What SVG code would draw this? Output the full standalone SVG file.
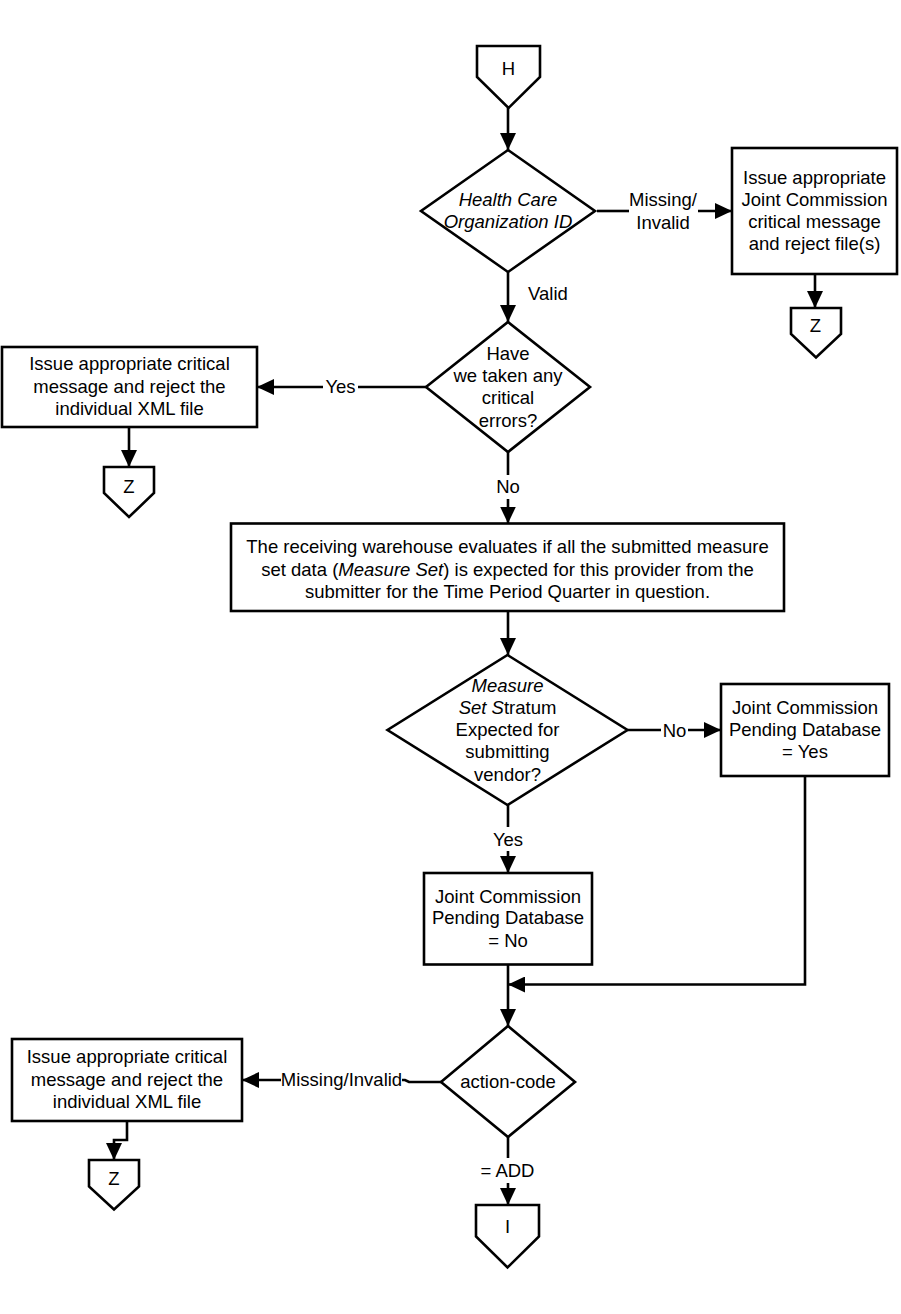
<svg xmlns="http://www.w3.org/2000/svg" width="901" height="1314" viewBox="0 0 901 1314">
<defs>
<marker id="arr" markerUnits="userSpaceOnUse" markerWidth="17" markerHeight="16" refX="17" refY="8" orient="auto">
<path d="M0,0 L17,8 L0,16 z" fill="#000"/>
</marker>
<style>
.s{fill:#fff;stroke:#000;stroke-width:2.6;stroke-linejoin:miter}
.c{fill:none;stroke:#000;stroke-width:2.6}
.a{marker-end:url(#arr)}
text{font-family:"Liberation Sans",Arial,sans-serif;font-size:18.5px;fill:#000;text-anchor:middle}
.i{font-style:italic}
</style>
</defs>
<rect width="901" height="1314" fill="#fff"/>

<g id="connectors">
<line class="c a" x1="508" y1="108" x2="508" y2="150"/>
<line class="c" x1="597" y1="211" x2="629" y2="211"/>
<line class="c a" x1="698" y1="211" x2="732" y2="211"/>
<line class="c a" x1="815" y1="274" x2="815" y2="308"/>
<line class="c a" x1="508" y1="272" x2="508" y2="322"/>
<line class="c" x1="426" y1="387" x2="358" y2="387"/>
<line class="c a" x1="323" y1="387" x2="257" y2="387"/>
<line class="c a" x1="129" y1="427" x2="129" y2="467"/>
<line class="c" x1="508" y1="452" x2="508" y2="475"/>
<line class="c a" x1="508" y1="499" x2="508" y2="523.5"/>
<line class="c a" x1="508" y1="611" x2="508" y2="655"/>
<line class="c" x1="627.5" y1="730" x2="661" y2="730"/>
<line class="c a" x1="688" y1="730" x2="721" y2="730"/>
<line class="c" x1="508" y1="805" x2="508" y2="827"/>
<line class="c a" x1="508" y1="851" x2="508" y2="873"/>
<line class="c a" x1="508" y1="964.5" x2="508" y2="1026"/>
<polyline class="c a" points="805,776 805,984.5 508,984.5"/>
<polyline class="c" points="441,1082 409,1082 405,1080 402,1080"/>
<line class="c a" x1="281" y1="1080" x2="242" y2="1080"/>
<polyline class="c a" points="127,1121 127,1140 114,1140 114,1160"/>
<line class="c" x1="508" y1="1137" x2="508" y2="1158"/>
<line class="c a" x1="508" y1="1183" x2="508" y2="1205"/>
</g>

<g id="conn-H">
<polygon class="s" points="477,46 540,46 540,77 508.5,108 477,77"/>
<text x="508.5" y="74.5">H</text>
</g>

<g id="dec-hco">
<polygon class="s" points="508,150 595,211 508,272 421,211"/>
<text class="i" x="508" y="205.5">Health Care</text>
<text class="i" x="508" y="228">Organization ID</text>
</g>

<g id="lbl-missing1">
<text x="663" y="205.5">Missing/</text>
<text x="663" y="228.5">Invalid</text>
</g>

<g id="box-jc-critical">
<rect class="s" x="732" y="148" width="165" height="126"/>
<text x="814.5" y="183.8">Issue appropriate</text>
<text x="814.5" y="205.8">Joint Commission</text>
<text x="814.5" y="228">critical message</text>
<text x="814.5" y="250">and reject file(s)</text>
</g>

<g id="conn-Z1">
<polygon class="s" points="791,308 841,308 841,334 816,357.5 791,334"/>
<text x="815.5" y="332.3">Z</text>
</g>

<g id="lbl-valid">
<text x="548" y="299.5">Valid</text>
</g>

<g id="dec-critical">
<polygon class="s" points="508,322 590,387 508,452 426,387"/>
<text x="508" y="359.5">Have</text>
<text x="508" y="382.2">we taken any</text>
<text x="508" y="404.2">critical</text>
<text x="508" y="426.5">errors?</text>
</g>

<g id="lbl-yes1">
<text x="340.5" y="393.2">Yes</text>
</g>

<g id="box-reject1">
<rect class="s" x="2" y="347" width="255" height="80"/>
<text x="129.5" y="369.8">Issue appropriate critical</text>
<text x="129.5" y="392.5">message and reject the</text>
<text x="129.5" y="415.2">individual XML file</text>
</g>

<g id="conn-Z2">
<polygon class="s" points="104,467 154,467 154,493 129,517 104,493"/>
<text x="129" y="492.5">Z</text>
</g>

<g id="lbl-no1">
<text x="508" y="493.2">No</text>
</g>

<g id="box-evaluate">
<rect class="s" x="231" y="523.5" width="553" height="87.5"/>
<text x="507.5" y="553.2">The receiving warehouse evaluates if all the submitted measure</text>
<text x="507.5" y="575.8">set data (<tspan class="i">Measure Set</tspan>) is expected for this provider from the</text>
<text x="507.5" y="598.2">submitter for the Time Period Quarter in question.</text>
</g>

<g id="dec-stratum">
<polygon class="s" points="507.5,655 627.5,730 507.5,805 387.5,730"/>
<text class="i" x="507.5" y="691.5">Measure</text>
<text x="507.5" y="713.5"><tspan class="i">Set S</tspan>tratum</text>
<text x="507.5" y="735.8">Expected for</text>
<text x="507.5" y="758.2">submitting</text>
<text x="507.5" y="780.5">vendor?</text>
</g>

<g id="lbl-no2">
<text x="674.5" y="736.5">No</text>
</g>

<g id="box-pending-yes">
<rect class="s" x="721" y="684" width="168" height="92"/>
<text x="805" y="713.5">Joint Commission</text>
<text x="805" y="735.5">Pending Database</text>
<text x="805" y="758.2">= Yes</text>
</g>

<g id="lbl-yes2">
<text x="508" y="845.5">Yes</text>
</g>

<g id="box-pending-no">
<rect class="s" x="424" y="873" width="168" height="91.5"/>
<text x="508" y="902.5">Joint Commission</text>
<text x="508" y="924.2">Pending Database</text>
<text x="508" y="946.5">= No</text>
</g>

<g id="dec-action">
<polygon class="s" points="508,1026 575,1082 508,1137 441,1082"/>
<text x="508" y="1088.2">action-code</text>
</g>

<g id="lbl-missing2">
<text x="341.5" y="1085.5">Missing/Invalid</text>
</g>

<g id="box-reject2">
<rect class="s" x="12" y="1039" width="230" height="82"/>
<text x="127" y="1063.2">Issue appropriate critical</text>
<text x="127" y="1085.5">message and reject the</text>
<text x="127" y="1107.8">individual XML file</text>
</g>

<g id="conn-Z3">
<polygon class="s" points="89,1160 139,1160 139,1186.5 114,1209.5 89,1186.5"/>
<text x="114" y="1184.8">Z</text>
</g>

<g id="lbl-add">
<text x="507.5" y="1176.5">= ADD</text>
</g>

<g id="conn-I">
<polygon class="s" points="476,1205 539,1205 539,1236.5 507.5,1267.5 476,1236.5"/>
<text x="507.5" y="1233.2">I</text>
</g>
</svg>
